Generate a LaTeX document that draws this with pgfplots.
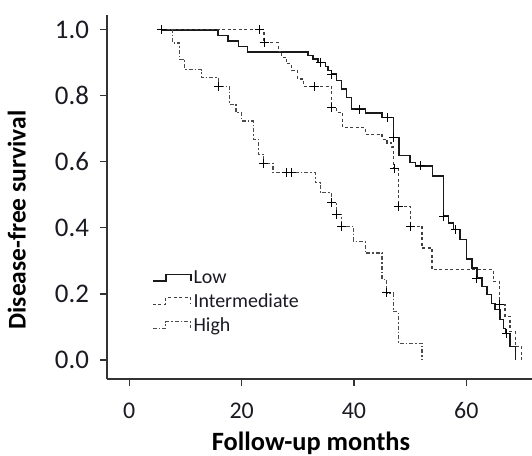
\documentclass[border=0pt]{standalone}
\usepackage{pgfplots}
\pgfplotsset{compat=1.18}
\usepackage{fontspec}
\setmainfont{Carlito}
\definecolor{axgray}{HTML}{333333}
\definecolor{txt}{HTML}{1A1A22}
\begin{document}
\begin{tikzpicture}
\begin{axis}[
  scale only axis,
  width=425bp, height=364bp,
  xmin=-3.97, xmax=71.7,
  ymin=-0.0576, ymax=1.045,
  axis x line*=bottom, axis y line*=left,
  axis line style={-, axgray, line width=1.1bp},
  xtick={0,20,40,60}, ytick={0,0.2,0.4,0.6,0.8,1.0},
  tick align=outside, major tick length=7bp,
  tick style={axgray, line width=1.1bp},
  /pgf/number format/assume math mode=true,
  tick label style={text=txt},
  yticklabel style={/pgf/number format/fixed, /pgf/number format/fixed zerofill, /pgf/number format/precision=1, xshift=-7.5bp, font=\fontsize{27}{30}\selectfont},
  xticklabel style={yshift=-13bp, font=\fontsize{24}{28}\selectfont},
  xlabel={Follow-up months}, ylabel={Disease-free survival},
  xlabel style={at={(axis description cs:0.48,-0.176)}, anchor=center, inner sep=0pt, font=\fontsize{26.5}{30}\selectfont\bfseries, text=black},
  ylabel style={at={(axis description cs:-0.212,0.437)}, anchor=center, font=\fontsize{25.6}{30}\selectfont\bfseries, text=black},
  legend style={draw=none, fill=none, at={(axis description cs:0.106,0.303)}, anchor=north west,
    font=\fontsize{20}{24}\selectfont, text=txt, row sep=4.5bp, inner sep=0pt},
  legend cell align=left,
  legend image code/.code={\draw[#1] (0bp,-3bp) -- (13bp,-3bp) -- (13bp,3.5bp) -- (38bp,3.5bp) -- (38bp,-2.5bp);},
]
\addplot[const plot, black!90, line width=1.3bp] coordinates {
(5.82,1.0) (15.8,0.983) (17.6,0.966) (19.4,0.950) (21.1,0.933) (31.8,0.922) (32.7,0.912) (33.6,0.902)
(34.9,0.888) (35.4,0.876) (36.0,0.866) (36.9,0.846) (37.8,0.821) (38.7,0.795) (39.6,0.760) (42.0,0.748)
(45.0,0.735) (47.0,0.674) (48.0,0.620) (50.0,0.599) (50.9,0.588) (54.0,0.557) (55.9,0.436) (56.8,0.415)
(57.7,0.395) (58.9,0.365) (60.0,0.306) (61.0,0.279) (61.9,0.248) (62.8,0.223) (63.7,0.198) (64.5,0.172)
(65.1,0.152) (66.0,0.122) (66.6,0.096) (67.0,0.081) (67.8,0.040) (68.7,0.0)};
\addlegendentry{Low}
\addplot[const plot, black!75, line width=1.2bp, dash pattern=on 3bp off 2.5bp] coordinates {
(5.82,1.0) (24.0,0.962) (26.5,0.934) (27.1,0.917) (28.0,0.897) (28.9,0.876) (30.0,0.851) (31.0,0.829)
(36.0,0.765) (36.9,0.750) (38.0,0.704) (42.0,0.684) (45.0,0.669) (45.9,0.657) (46.7,0.645) (47.0,0.579)
(47.9,0.466) (50.0,0.405) (52.1,0.339) (53.9,0.274) (64.8,0.238) (65.9,0.167) (66.9,0.132) (67.8,0.086)
(68.7,0.040) (69.9,0.0)};
\addlegendentry{Intermediate}
\addplot[const plot, black!70, line width=1.2bp, dash pattern=on 4bp off 2bp on 1.5bp off 2bp] coordinates {
(5.82,1.0) (7.7,0.96) (9.0,0.91) (9.9,0.879) (12.9,0.856) (15.9,0.829) (17.9,0.775) (19.0,0.750)
(20.0,0.724) (22.1,0.669) (23.0,0.623) (23.9,0.596) (25.6,0.567) (33.1,0.537) (34.0,0.507) (36.0,0.476)
(36.9,0.441) (37.8,0.405) (39.9,0.360) (42.0,0.324) (45.0,0.243) (45.8,0.203) (47.0,0.147) (47.9,0.051)
(52.1,0.0)};
\addlegendentry{High}
\addplot[only marks, mark=+, mark size=4.5bp, black, line width=1bp, forget plot] coordinates {
(5.82,1.0) (34.1,0.902) (36.0,0.866) (40.9,0.760) (45.9,0.735) (47.1,0.674) (51.8,0.588) (55.9,0.436)
(58.0,0.395) (61.9,0.248) (67.2,0.081)};
\addplot[only marks, mark=+, mark size=4.5bp, black, line width=1bp, forget plot] coordinates {
(23.1,1.0) (24.0,0.962) (32.9,0.829) (36.0,0.765) (47.2,0.579) (47.9,0.466) (50.0,0.405) (65.9,0.167)};
\addplot[only marks, mark=+, mark size=4.5bp, black, line width=1bp, forget plot] coordinates {
(15.9,0.829) (23.9,0.596) (28.0,0.567) (28.9,0.567) (36.0,0.476) (36.9,0.441) (37.8,0.405) (45.8,0.203)};
\end{axis}
\pgfresetboundingbox
\useasboundingbox (-107bp,-77bp) rectangle (425bp,379bp);
\end{tikzpicture}
\end{document}
